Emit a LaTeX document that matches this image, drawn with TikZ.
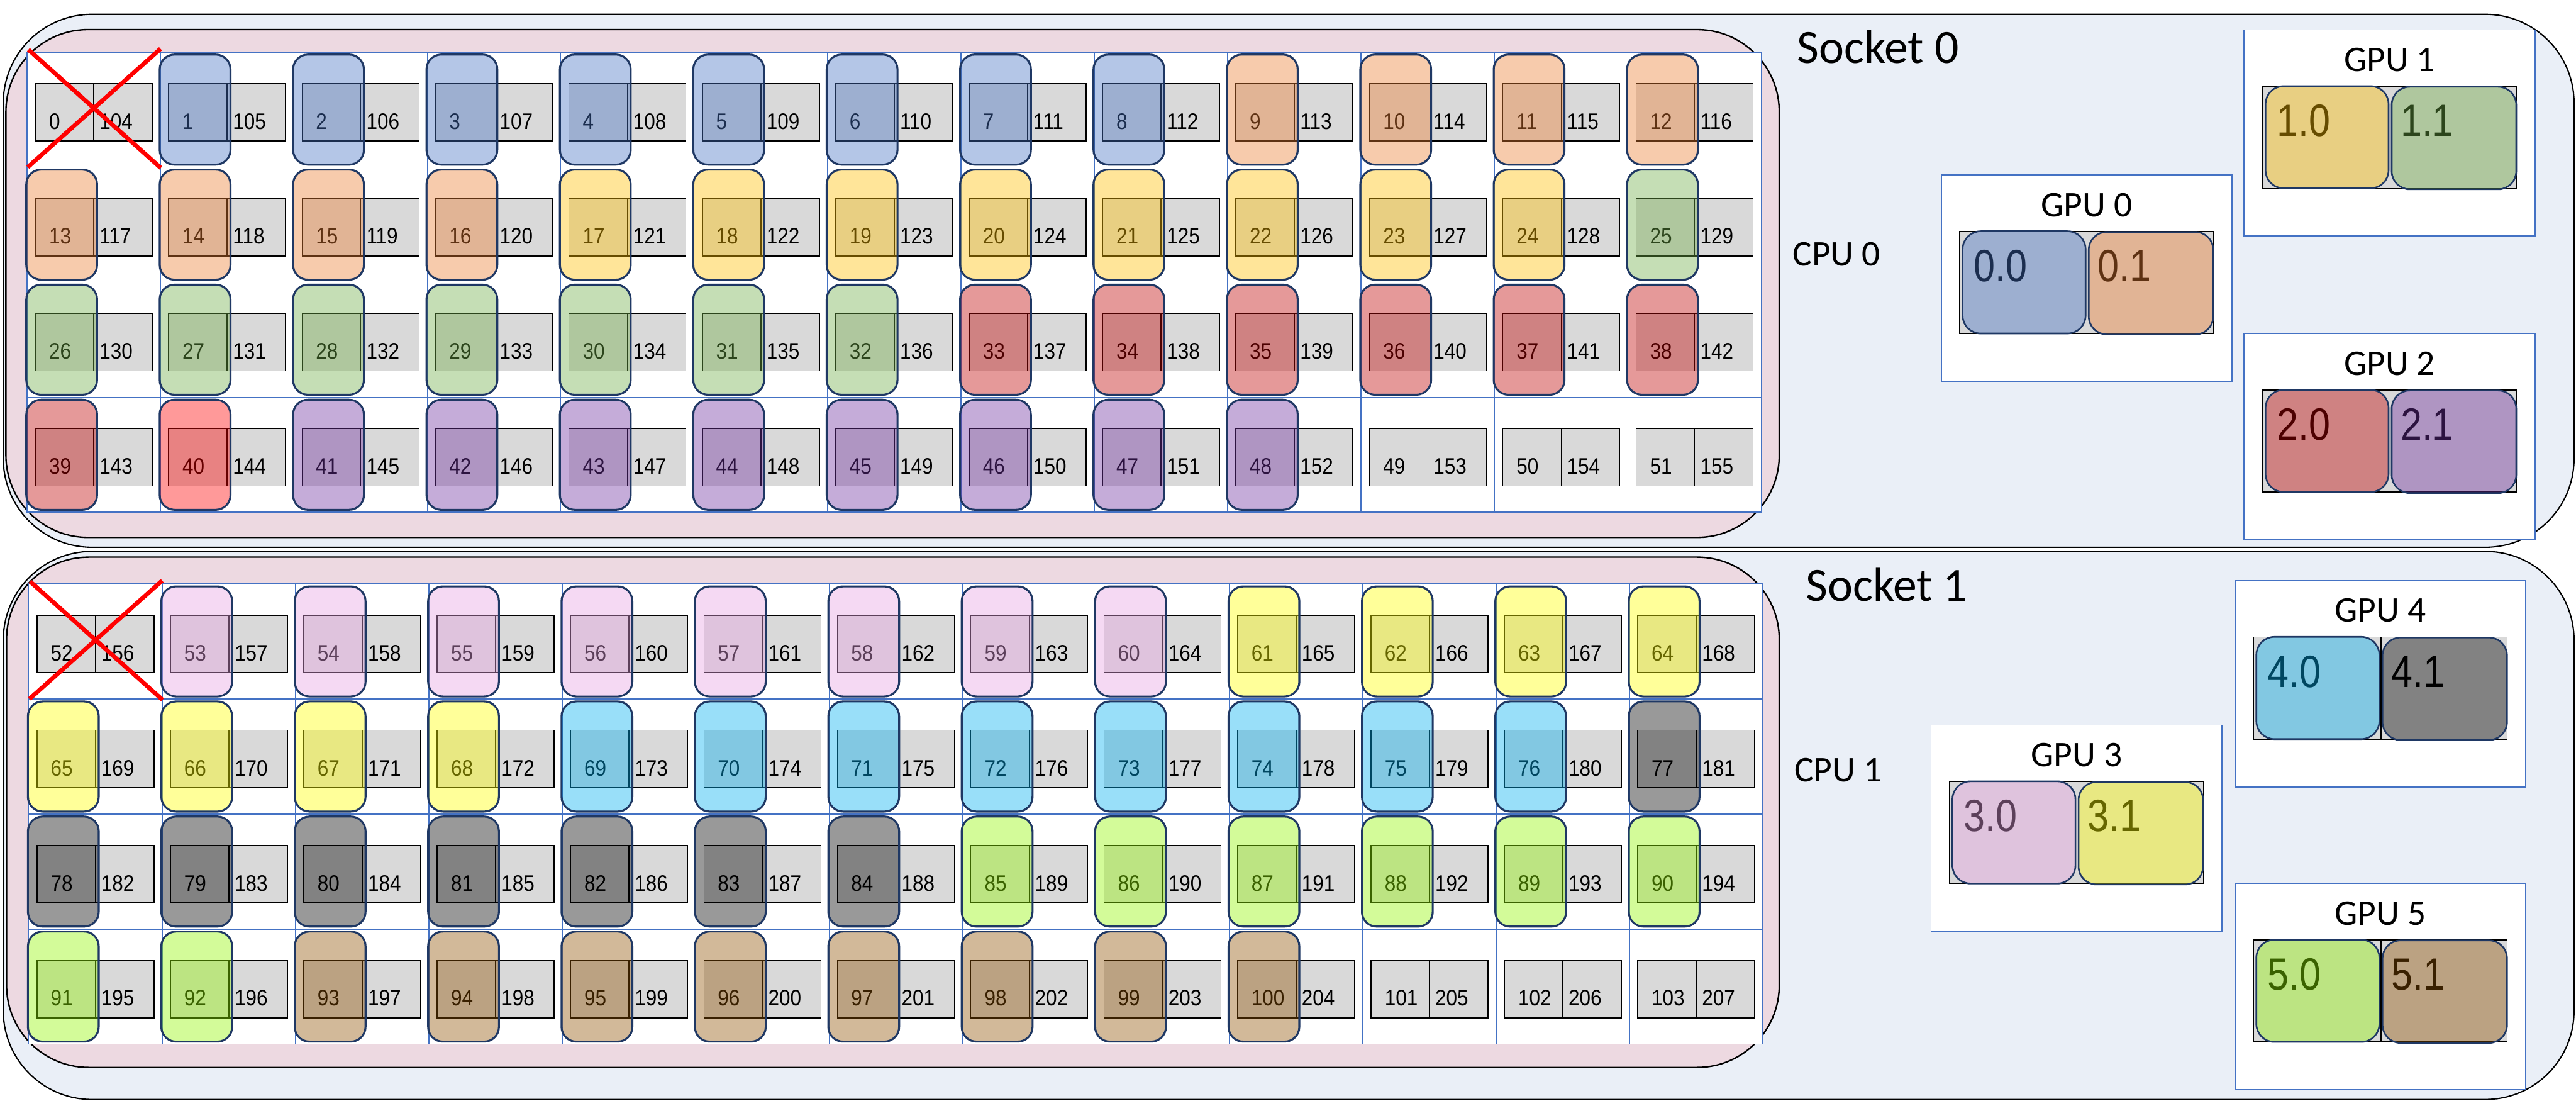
\documentclass[tikz,border=0pt]{standalone}
\usepackage{fontspec}
\setmainfont{Carlito}
\newfontfamily\cellfont[FakeStretch=0.88]{Liberation Sans}
\newfontfamily\gpufont[FakeStretch=0.85]{Liberation Sans}
\definecolor{sockfill}{HTML}{EAEFF7}
\definecolor{cpufill}{HTML}{EDD9E1}
\definecolor{greyfill}{HTML}{D9D9D9}
\definecolor{gridblue}{HTML}{4472C4}
\definecolor{navy}{HTML}{1F3864}
\definecolor{blueC}{HTML}{4472C4}
\definecolor{orangeC}{HTML}{ED7D31}
\definecolor{goldC}{HTML}{FFC000}
\definecolor{greenC}{HTML}{70AD47}
\definecolor{redC}{HTML}{C00000}
\definecolor{brightredC}{HTML}{FF0000}
\definecolor{purpleC}{HTML}{7030A0}
\definecolor{pinkC}{RGB}{232,162,227}
\definecolor{yellowC}{HTML}{FFFF00}
\definecolor{cyanC}{HTML}{00B0F0}
\definecolor{greyC}{HTML}{000000}
\definecolor{limeC}{RGB}{146,245,0}
\definecolor{tanC}{RGB}{143,80,0}
\tikzset{
  sockbox/.style={draw=black, line width=0.8pt, fill=sockfill, rounded corners=54pt},
  cpubox/.style={draw=black, line width=0.9pt, fill=cpufill, rounded corners=50pt},
  cellbox/.style={draw=gridblue, line width=0.6pt, fill=white},
  greyhalf/.style={draw=black, line width=0.6pt, fill=greyfill},
  corefill/.style={draw=navy, line width=1.2pt, fill=#1, fill opacity=0.4, rounded corners=9pt},
  gpucorefill/.style={draw=navy, line width=1.0pt, fill=#1, fill opacity=0.4, rounded corners=11pt},
  gpubox/.style={draw=gridblue, line width=0.7pt, fill=white},
  cellnum/.style={font=\cellfont\fontsize{13.7}{14}\selectfont, inner sep=0pt, anchor=base west},
  gpunum/.style={font=\gpufont\fontsize{27.5}{28}\selectfont, inner sep=0pt, anchor=base west},
  gputitle/.style={font=\fontsize{22}{24}\selectfont, inner sep=0pt, anchor=base},
  socklabel/.style={font=\fontsize{29}{30}\selectfont, inner sep=0pt, anchor=base west},
  cpulabel/.style={font=\fontsize{22}{24}\selectfont, inner sep=0pt, anchor=base west},
  crossline/.style={draw=red, line width=2.6pt}
}
\begin{document}
\begin{tikzpicture}[x=1pt, y=-1pt]
\useasboundingbox (0,0) rectangle (1568,669.8);
% sockets
\draw[sockbox] (2,8.7) rectangle (1566.8,333);
\draw[sockbox] (2,335.5) rectangle (1566.8,669);
% CPUs
\draw[cpubox] (3.6,18) rectangle (1083,327);
\draw[cpubox] (4,339) rectangle (1083,649.5);
% grid cells
\foreach \n in {0,...,103} {
  \pgfmathtruncatemacro\s{floor(\n/52)}
  \pgfmathtruncatemacro\k{\n-52*\s}
  \pgfmathtruncatemacro\r{floor(\k/13)}
  \pgfmathtruncatemacro\c{mod(\k,13)}
  \pgfmathsetmacro\L{16.5+\s*1.0+\c*81.2}
  \pgfmathsetmacro\T{31.7+\s*323.6+\r*70}
  \draw[cellbox] (\L,\T) rectangle ++(81.2,70);
}
% grey halves and numbers
\foreach \n in {0,...,103} {
  \pgfmathtruncatemacro\s{floor(\n/52)}
  \pgfmathtruncatemacro\k{\n-52*\s}
  \pgfmathtruncatemacro\r{floor(\k/13)}
  \pgfmathtruncatemacro\c{mod(\k,13)}
  \pgfmathtruncatemacro\m{\n+104}
  \pgfmathsetmacro\L{16.5+\s*1.0+\c*81.2}
  \pgfmathsetmacro\T{31.7+\s*323.6+\r*70}
  \draw[greyhalf] (\L+5,\T+19) rectangle (\L+40.6,\T+54);
  \draw[greyhalf] (\L+40.6,\T+19) rectangle (\L+76.2,\T+54);
  \node[cellnum] (lnum\n) at (\L+13.2,\T+46.8) {\n};
  \node[cellnum] (rnum\n) at (\L+43.9,\T+46.8) {\m};
}
% core highlights
\foreach \a/\b/\col in {1/8/blueC, 9/16/orangeC, 17/24/goldC, 25/32/greenC,
    33/39/redC, 40/40/brightredC, 41/48/purpleC, 53/60/pinkC, 61/68/yellowC,
    69/76/cyanC, 77/84/greyC, 85/92/limeC, 93/100/tanC} {
  \foreach \n in {\a,...,\b} {
    \pgfmathtruncatemacro\s{floor(\n/52)}
    \pgfmathtruncatemacro\k{\n-52*\s}
    \pgfmathtruncatemacro\r{floor(\k/13)}
    \pgfmathtruncatemacro\c{mod(\k,13)}
    \pgfmathsetmacro\L{16.5+\s*1.0+\c*81.2}
    \pgfmathsetmacro\T{31.7+\s*323.6+\r*70}
    \draw[corefill=\col] (\L-0.5,\T+1.5) rectangle (\L+42.6,\T+68.5);
  }
}
% crossed-out cores
\foreach \n in {0,52} {
  \pgfmathtruncatemacro\s{floor(\n/52)}
  \pgfmathsetmacro\L{16.5+\s*1.0}
  \pgfmathsetmacro\T{31.7+\s*323.6}
  \draw[crossline] (\L+0.8,\T-1.5) -- (\L+81.4,\T+70.5);
  \draw[crossline] (\L+81.2,\T-2) -- (\L+0.4,\T+70);
}
% labels
\node[socklabel] (sock0) at (1093.7,38.5) {Socket 0};
\node[socklabel] (sock1) at (1099,365.7) {Socket 1};
\node[cpulabel] (cpu0) at (1091,161.7) {CPU 0};
\node[cpulabel] (cpu1) at (1092,475.5) {CPU 1};
% GPUs
\foreach \g/\gx/\gy/\ca/\cb in {0/1181.6/106.5/blueC/orangeC, 1/1366/18.2/goldC/greenC,
    2/1366/203/redC/purpleC, 3/1175.4/441.2/pinkC/yellowC,
    4/1360.4/353.3/cyanC/greyC, 5/1360.4/537.6/limeC/tanC} {
  \draw[gpubox] (\gx,\gy) rectangle ++(177,125.5);
  \node[gputitle] (gputitle\g) at (\gx+88.5,\gy+25.2) {GPU \g};
  \draw[greyhalf] (\gx+11.2,\gy+34.3) rectangle (\gx+88.8,\gy+96.4);
  \draw[greyhalf] (\gx+88.8,\gy+34.3) rectangle (\gx+165.7,\gy+96.4);
  \node[gpunum] (gpu\g a) at (\gx+19.8,\gy+64.8) {\g.0};
  \node[gpunum] (gpu\g b) at (\gx+95,\gy+64.8) {\g.1};
  \draw[gpucorefill=\ca] (\gx+13,\gy+34.2) rectangle (\gx+87.9,\gy+96.4);
  \draw[gpucorefill=\cb] (\gx+89.8,\gy+34.6) rectangle (\gx+165.6,\gy+97);
}
\end{tikzpicture}
\end{document}
